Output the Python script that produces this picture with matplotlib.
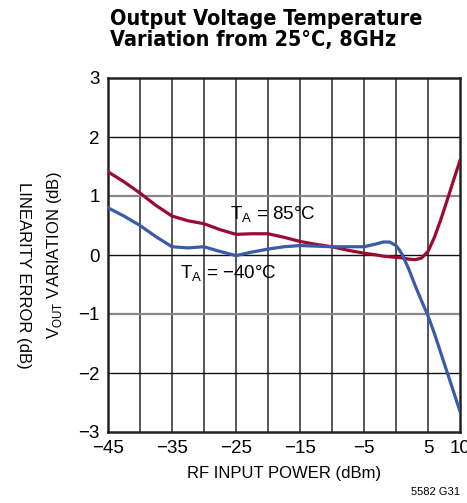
import matplotlib.pyplot as plt
from matplotlib import font_manager

# Dados (dBm, dB)
potencia = [-45, -42.5, -40, -37.5, -35, -32.5, -30, -27.5, -25, -22.5, -20, -17.5,
            -15, -12.5, -10, -7.5, -5, -3, -2, -1, 0, 0.5, 1, 2, 3, 4, 5, 6, 7, 8, 9, 10]
var_85 = [1.41, 1.24, 1.05, 0.84, 0.66, 0.58, 0.53, 0.43, 0.35, 0.36, 0.36, 0.30,
          0.23, 0.18, 0.14, 0.08, 0.03, 0.0, -0.02, -0.03, -0.04, -0.045, -0.05, -0.07,
          -0.08, -0.05, 0.06, 0.30, 0.60, 0.93, 1.27, 1.60]
var_m40 = [0.80, 0.66, 0.50, 0.31, 0.14, 0.12, 0.14, 0.06, -0.01, 0.05, 0.10, 0.14,
           0.16, 0.15, 0.14, 0.14, 0.14, 0.19, 0.22, 0.22, 0.16, 0.09, 0.0, -0.24,
           -0.52, -0.78, -1.03, -1.33, -1.66, -1.99, -2.32, -2.65]
xticks = [-45, -35, -25, -15, -5, 5, 10]
yticks = [-3, -2, -1, 0, 1, 2, 3]

nomes = {f.name for f in font_manager.fontManager.ttflist}
fonte = 'Liberation Sans Narrow' if 'Liberation Sans Narrow' in nomes else 'Liberation Sans'
plt.rcParams['font.family'] = [fonte, 'DejaVu Sans']
plt.rcParams['mathtext.fontset'] = 'custom'
plt.rcParams['mathtext.rm'] = fonte

fig = plt.figure(figsize=(4.67, 5.03), dpi=100)
ax = fig.add_axes([108 / 467, 1 - 432 / 503, 352 / 467, 354 / 503])

# grade
for x in range(-40, 10, 5):
    ax.axvline(x, color='#555555', lw=1.4, zorder=1)
for y in [-2, 0, 2]:
    ax.axhline(y, color='#111111', lw=1.0, zorder=1)
for y in [-1, 1]:
    ax.axhline(y, color='#888888', lw=1.6, zorder=1)

ax.plot(potencia, var_85, color='#9B0A30', lw=2.3, zorder=3)
ax.plot(potencia, var_m40, color='#3A5BA8', lw=2.3, zorder=3)

ax.set_xlim(-45, 10)
ax.set_ylim(-3, 3)
ax.set_xticks(xticks)
ax.set_xticklabels(['\u2212' + str(-v) if v < 0 else str(v) for v in xticks])
ax.set_yticks(yticks)
ax.set_yticklabels(['\u2212' + str(-v) if v < 0 else str(v) for v in yticks])
ax.tick_params(length=0, labelsize=13.5, pad=6)
for s in ax.spines.values():
    s.set_color('#222222')
    s.set_linewidth(1.8)

ax.text(-25.9, 0.68, r'T$_\mathregular{A}$ = 85°C', fontsize=13.5, va='center', zorder=4)
ax.text(-33.8, -0.32, r'T$_\mathregular{A}$ = $\mathregular{-}$40°C', fontsize=13.5, va='center', zorder=4)

ax.set_xlabel('RF INPUT POWER (dBm)', fontsize=12, labelpad=6)
ax.set_ylabel(r'V$_\mathregular{OUT}$ VARIATION (dB)', fontsize=12, labelpad=10)

fig.text(110 / 467, 1 - 9 / 503, 'Output Voltage Temperature\nVariation from 25°C, 8GHz',
         fontsize=15.5, fontweight='bold', fontstretch='condensed', va='top', ha='left',
         linespacing=1.05, family=['DejaVu Sans'])
fig.text(23 / 467, 1 - 275 / 503, 'LINEARITY ERROR (dB)', fontsize=12, rotation=-90,
         ha='center', va='center')
fig.text(460 / 467, 1 - 492 / 503, '5582 G31', fontsize=8, ha='right', va='center')

fig.savefig('out.png', dpi=100)
